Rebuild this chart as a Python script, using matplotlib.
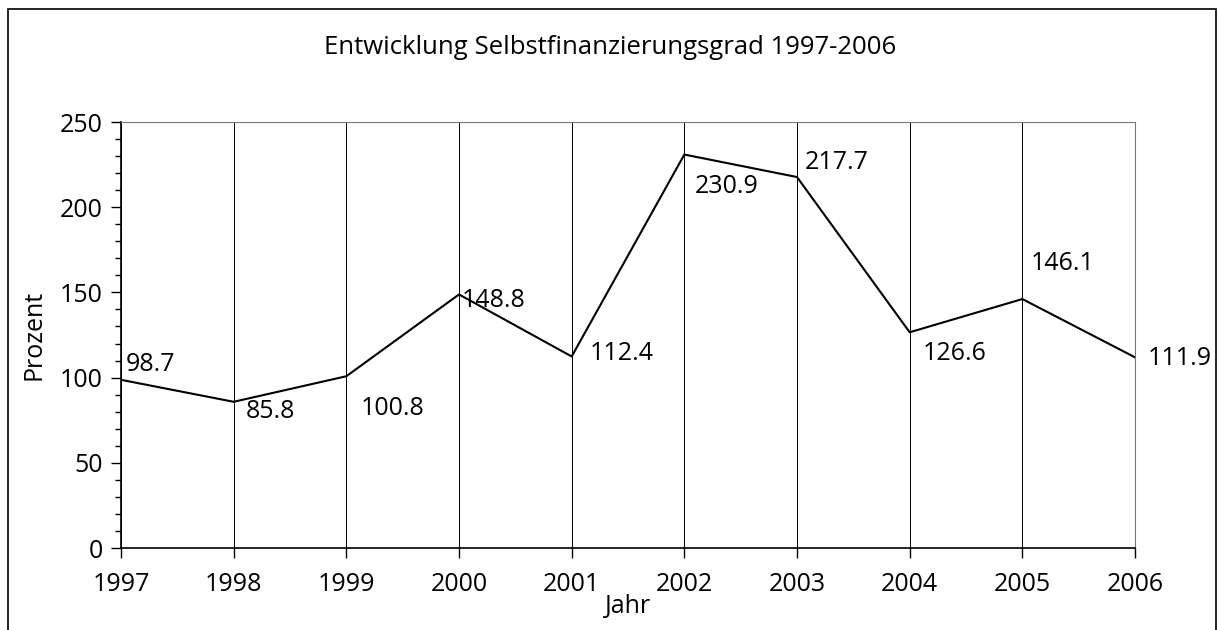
import matplotlib.pyplot as plt
from matplotlib.patches import Rectangle
from matplotlib.ticker import MultipleLocator

plt.rcParams['font.family'] = ['Open Sans', 'DejaVu Sans']

# Daten
jahre = [1997, 1998, 1999, 2000, 2001, 2002, 2003, 2004, 2005, 2006]
prozent = [98.7, 85.8, 100.8, 148.8, 112.4, 230.9, 217.7, 126.6, 146.1, 111.9]
# Versatz der Beschriftungen in Pixeln (linker Rand, vertikale Mitte des Textes)
offsets = [(5, 15), (12, -10), (14, -32), (3, -6), (18, 3), (10, -32), (8, 15), (13, -21), (8, 36), (13, -1)]

fig = plt.figure(figsize=(12.18, 6.3), dpi=100)
ax = fig.add_axes([121 / 1218, 1 - 548 / 630, (1135 - 121) / 1218, (548 - 122) / 630])

# Rahmen um die Grafik
fig.patches.append(Rectangle((8 / 1218, -0.01), 1208 / 1218, 1 - 9 / 630 + 0.01,
                             transform=fig.transFigure, fill=False, edgecolor='black', linewidth=1.2))

ax.plot(jahre, prozent, color='black', linewidth=1.5, zorder=3)
for x, y, (dx, dy) in zip(jahre, prozent, offsets):
    ax.annotate(f'{y:.1f}', (x, y), xytext=(dx, dy), textcoords='offset pixels',
                fontsize=18, ha='left', va='center')

ax.set_xlim(1997, 2006)
ax.set_ylim(0, 250)
ax.set_xticks(jahre)
ax.yaxis.set_major_locator(MultipleLocator(50))
ax.yaxis.set_minor_locator(MultipleLocator(10))
ax.grid(axis='x', color='black', linewidth=0.7)
ax.tick_params(axis='both', which='major', labelsize=18, length=7, width=1, direction='out')
ax.tick_params(axis='y', which='minor', length=4, width=1, direction='out')
ax.tick_params(axis='x', pad=10)
ax.tick_params(axis='y', pad=6)

for s in ['top', 'right']:
    ax.spines[s].set_color('#777777')
ax.spines['left'].set_linewidth(1.2)
ax.spines['bottom'].set_linewidth(1.2)

ax.set_xlabel('Jahr', fontsize=18, labelpad=-2)
ax.set_ylabel('Prozent', fontsize=18, labelpad=10)
fig.text(610 / 1218, 1 - 48 / 630, 'Entwicklung Selbstfinanzierungsgrad 1997-2006',
         fontsize=18.5, ha='center', va='center')

fig.savefig('out.png', dpi=100)
